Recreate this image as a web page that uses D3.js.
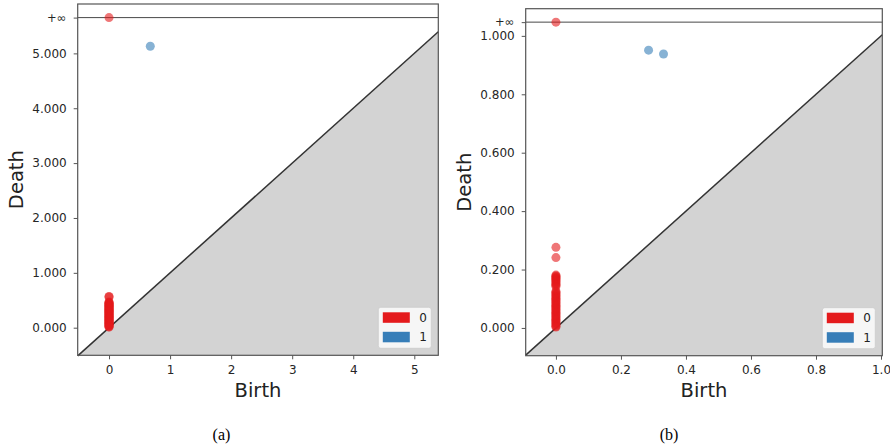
<!DOCTYPE html>
<html>
<head>
<meta charset="utf-8">
<script src="https://cdn.jsdelivr.net/npm/d3@7"></script>
<style>
  body { margin: 0; background: #fff; }
  svg { display: block; }
</style>
</head>
<body>
<svg id="chart" width="890" height="448"></svg>
<script>
// ---------- data ----------
const dimLabels = ["0", "1"];
const dimColors = ["#e41a1c", "#377eb8"];

// panel (a): [birth, death]
const aDim0 = [[0, Infinity], [0, 0.57], [0, 0.56], [0, 0.47], [0, 0.46], [0, 0.45], [0, 0.44], [0, 0.43],
  [0, 0.42], [0, 0.41], [0, 0.40], [0, 0.39], [0, 0.38], [0, 0.37], [0, 0.36], [0, 0.35], [0, 0.34],
  [0, 0.33], [0, 0.32], [0, 0.31], [0, 0.30], [0, 0.29], [0, 0.28], [0, 0.27], [0, 0.26], [0, 0.25],
  [0, 0.24], [0, 0.23], [0, 0.22], [0, 0.21], [0, 0.20], [0, 0.19], [0, 0.18], [0, 0.17], [0, 0.16],
  [0, 0.15], [0, 0.14], [0, 0.13], [0, 0.12], [0, 0.11], [0, 0.10], [0, 0.09], [0, 0.08], [0, 0.07],
  [0, 0.06], [0, 0.05], [0, 0.04], [0, 0.03], [0, 0.02], [0, 0.01]];
const aDim1 = [[0.676, 5.13]];
const aXTicks = [0, 1, 2, 3, 4, 5];
const aYTicks = [0, 1, 2, 3, 4, 5];
const aXDomain = [-0.513, 5.393];
const aYDomain = [-0.503, 5.90];
const aInf = 5.652;

// panel (b): [birth, death]
const bDim0 = [[0, Infinity], [0, 0.276], [0, 0.241], [0, 0.181], [0, 0.178], [0, 0.175], [0, 0.172],
  [0, 0.169], [0, 0.166], [0, 0.162], [0, 0.158], [0, 0.154], [0, 0.150], [0, 0.146], [0, 0.142],
  [0, 0.126], [0, 0.122], [0, 0.118], [0, 0.114], [0, 0.110], [0, 0.106], [0, 0.102], [0, 0.098],
  [0, 0.094], [0, 0.090], [0, 0.086], [0, 0.082], [0, 0.078], [0, 0.074], [0, 0.070], [0, 0.066],
  [0, 0.062], [0, 0.058], [0, 0.054], [0, 0.050], [0, 0.046], [0, 0.042], [0, 0.038], [0, 0.034],
  [0, 0.030], [0, 0.026], [0, 0.022], [0, 0.018], [0, 0.014], [0, 0.010], [0, 0.006], [0, 0.003]];
const bDim1 = [[0.285, 0.951], [0.331, 0.938]];
const bXTicks = [0, 0.2, 0.4, 0.6, 0.8, 1.0];
const bYTicks = [0, 0.2, 0.4, 0.6, 0.8, 1.0];
const bXDomain = [-0.093, 1.004];
const bYDomain = [-0.095, 1.093];
const bInf = 1.047;

const captions = ["(a)", "(b)"];

// ---------- drawing ----------
const svg = d3.select("#chart");
svg.append("rect").attr("width", 890).attr("height", 448).attr("fill", "#fff");

const panels = [
  { dims: [aDim0, aDim1], xTicks: aXTicks, yTicks: aYTicks, xDom: aXDomain, yDom: aYDomain, inf: aInf,
    xFmt: d3.format("d"), left: 77.7, right: 438.3, top: 4, bottom: 355.3, caption: captions[0], capX: 221.5 },
  { dims: [bDim0, bDim1], xTicks: bXTicks, yTicks: bYTicks, xDom: bXDomain, yDom: bYDomain, inf: bInf,
    xFmt: d3.format(".1f"), left: 525.7, right: 882.3, top: 8.7, bottom: 355.7, caption: captions[1], capX: 669 }
];

const tickFont = "DejaVu Sans, sans-serif";

panels.forEach(p => {
  const x = d3.scaleLinear().domain(p.xDom).range([p.left, p.right]);
  const y = d3.scaleLinear().domain(p.yDom).range([p.bottom, p.top]);
  const g = svg.append("g");

  // shaded region under diagonal
  const [x0, x1] = p.xDom;
  g.append("path")
    .attr("d", d3.line()([[x(x0), y(x0)], [x(x1), y(x1)], [x(x1), y(p.yDom[0])], [x(x0), y(p.yDom[0])]]))
    .attr("fill", "#d3d3d3");
  g.append("line")
    .attr("x1", x(x0)).attr("y1", y(x0)).attr("x2", x(x1)).attr("y2", y(x1))
    .attr("stroke", "#333").attr("stroke-width", 1.5);

  // infinity line
  g.append("line")
    .attr("x1", p.left).attr("x2", p.right).attr("y1", y(p.inf)).attr("y2", y(p.inf))
    .attr("stroke", "#333").attr("stroke-width", 0.9);

  // points
  p.dims.forEach((pts, di) => {
    g.selectAll(null).data(pts).enter().append("circle")
      .attr("cx", d => x(d[0]))
      .attr("cy", d => y(isFinite(d[1]) ? d[1] : p.inf))
      .attr("r", 4.5)
      .attr("fill", dimColors[di])
      .attr("fill-opacity", 0.6);
  });

  // spines
  g.append("rect")
    .attr("x", p.left).attr("y", p.top)
    .attr("width", p.right - p.left).attr("height", p.bottom - p.top)
    .attr("fill", "none").attr("stroke", "#555").attr("stroke-width", 1.2);

  // y axis
  const yAxis = d3.axisLeft(y).tickValues(p.yTicks.concat([p.inf]))
    .tickFormat(d => d === p.inf ? "" : d3.format(".3f")(d))
    .tickSize(4).tickPadding(7);
  const ya = g.append("g").attr("transform", `translate(${p.left},0)`).call(yAxis);
  ya.select(".domain").remove();
  ya.selectAll("line").attr("stroke", "#555");
  ya.selectAll("text").attr("font-family", tickFont).attr("font-size", 12).attr("fill", "#262626");
  g.append("text")
    .attr("x", p.left - 11.5).attr("y", y(p.inf)).attr("dy", "0.35em")
    .attr("text-anchor", "end").attr("font-family", tickFont).attr("font-size", 11.5).attr("fill", "#262626")
    .text("+∞");

  // x axis
  const xAxis = d3.axisBottom(x).tickValues(p.xTicks).tickFormat(p.xFmt).tickSize(4).tickPadding(6);
  const xa = g.append("g").attr("transform", `translate(0,${p.bottom})`).call(xAxis);
  xa.select(".domain").remove();
  xa.selectAll("line").attr("stroke", "#555");
  xa.selectAll("text").attr("font-family", tickFont).attr("font-size", 12).attr("fill", "#262626");

  // axis titles
  g.append("text")
    .attr("x", (p.left + p.right) / 2).attr("y", 397)
    .attr("text-anchor", "middle").attr("font-family", tickFont).attr("font-size", 19.5).attr("fill", "#222")
    .text("Birth");
  g.append("text")
    .attr("transform", `translate(${p.left - 55},${(p.top + p.bottom) / 2}) rotate(-90)`)
    .attr("text-anchor", "middle").attr("font-family", tickFont).attr("font-size", 19.5).attr("fill", "#222")
    .text("Death");

  // legend
  const lw = 53, lh = 41;
  const lx = p.right - 7 - lw, ly = p.bottom - 7 - lh;
  const lg = g.append("g").attr("transform", `translate(${lx},${ly})`);
  lg.append("rect").attr("width", lw).attr("height", lh).attr("rx", 2.5)
    .attr("fill", "#fff").attr("fill-opacity", 0.8).attr("stroke", "#ccc").attr("stroke-width", 0.8);
  dimLabels.forEach((lab, i) => {
    lg.append("rect").attr("x", 4.5).attr("y", 5 + i * 19.5).attr("width", 27).attr("height", 10.5)
      .attr("fill", dimColors[i]);
    lg.append("text").attr("x", 41).attr("y", 5 + i * 19.5 + 5.25).attr("dy", "0.35em")
      .attr("font-family", tickFont).attr("font-size", 12).attr("fill", "#222").text(lab);
  });

  // caption
  svg.append("text")
    .attr("x", p.capX).attr("y", 440).attr("text-anchor", "middle")
    .attr("font-family", "Liberation Serif, Times New Roman, serif").attr("font-size", 16).attr("fill", "#000")
    .text(p.caption);
});
</script>
</body>
</html>
